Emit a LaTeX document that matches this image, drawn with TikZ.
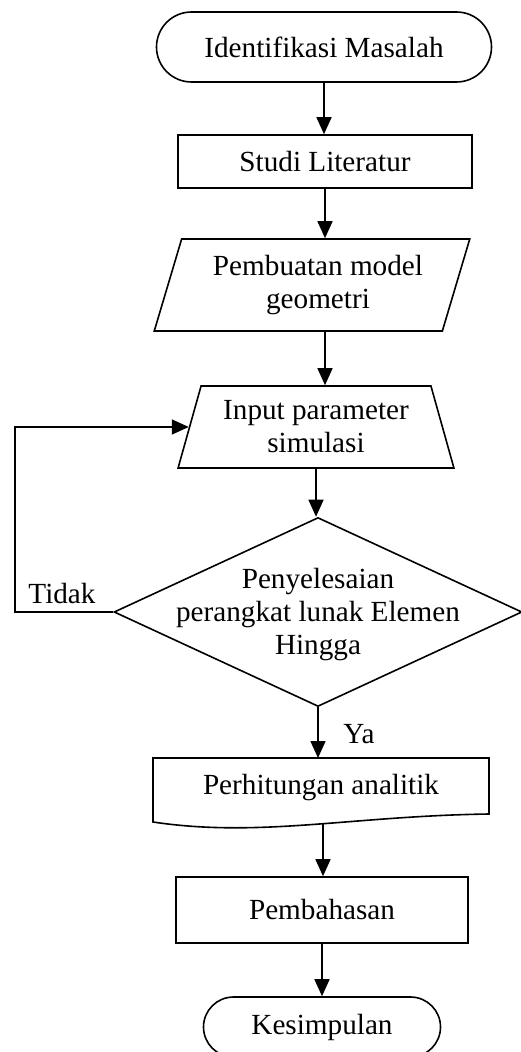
\documentclass[tikz,border=0pt]{standalone}
\usepackage{fontspec}
\setmainfont{Liberation Serif}
\usetikzlibrary{arrows.meta,shapes.geometric,shapes.misc}
\begin{document}
\begin{tikzpicture}[x=0.5pt,y=-0.5pt,line width=0.8pt,
  font=\fontsize{14.6pt}{16.5pt}\selectfont,
  term/.style={draw,rounded rectangle,inner sep=0pt},
  proc/.style={draw,rectangle,inner sep=0pt},
  io/.style={draw,trapezium,trapezium stretches=true,inner sep=0pt,align=center},
  dia/.style={draw,diamond,inner sep=0pt},
  arr/.style={-{Triangle[width=7.5pt,length=8.5pt]}}]
  \useasboundingbox (0,0) rectangle (520,1052);
  \node[term,minimum width=167.5pt,minimum height=35pt] (idm) at (324,47) {Identifikasi Masalah};
  \node[proc,minimum width=147pt,minimum height=26.5pt] (stl) at (325,161.5) {Studi Literatur};
  \node[io,trapezium left angle=68.6,trapezium right angle=111.4,minimum width=158pt,minimum height=46pt] (geo) at (312,285) {\hspace*{6pt}Pembuatan model\\\hspace*{6pt}geometri};
  \node[io,trapezium left angle=70.5,trapezium right angle=70.5,minimum width=138pt,minimum height=41pt] (inp) at (316,427) {Input parameter\\simulasi};
  \node[dia,minimum width=204pt,minimum height=94.5pt] (dec) at (318,612) {};
  \node[align=center] (dect) at (318,615) {Penyelesaian\\perangkat lunak Elemen\\Hingga};
  \node (hit) at (321,788) {Perhitungan analitik};
  \draw (153,758) -- (489,758) -- (489,814) .. controls (350,816) and (260,838) .. (153,822) -- cycle;
  \coordinate (hitT) at (321,758);
  \coordinate (hitB) at (323,823);
  \node[proc,minimum width=146pt,minimum height=33pt] (bhs) at (322,910) {Pembahasan};
  \node[term,minimum width=118.5pt,minimum height=30pt] (ksp) at (322,1027) {Kesimpulan};
  \node[anchor=base] (tdk) at (62,603) {Tidak};
  \node[anchor=base] (ya) at (359,743) {Ya};
  \coordinate (loop) at (15,612);
  \draw[arr] (idm.south) -- (idm.south |- stl.north);
  \draw[arr] (stl.south) -- (stl.south |- geo.north);
  \draw[arr] (stl.south |- geo.south) -- (stl.south |- inp.north);
  \draw[arr] (inp.south) -- (inp.south |- dec.north);
  \draw[arr] (dec.south) -- (dec.south |- hitT);
  \draw[arr] (hitB) -- (hitB |- bhs.north);
  \draw[arr] (bhs.south) -- (bhs.south |- ksp.north);
  \draw[arr] (dec.west) -- (loop) |- (inp.west);
\end{tikzpicture}
\end{document}
